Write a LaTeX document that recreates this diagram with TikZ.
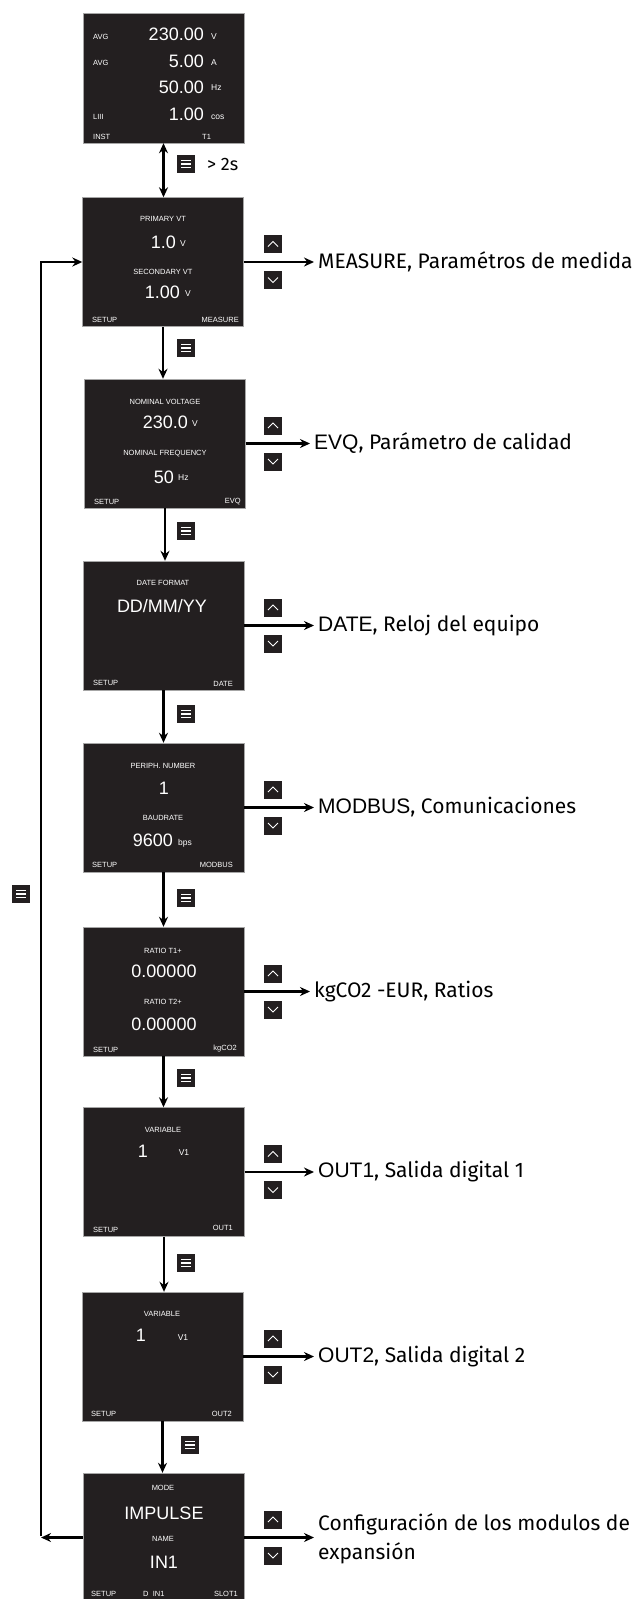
\documentclass[tikz,border=0pt]{standalone}
\usepackage{fontspec}
\setmainfont{Liberation Sans}
\newfontfamily\labfont{Fira Sans}
\usetikzlibrary{arrows.meta}
\definecolor{lcd}{RGB}{35,31,32}
\begin{document}
\begin{tikzpicture}[x=1pt, y=-1pt,
  screen/.style={draw=black!35, fill=lcd, minimum width=161pt, minimum height=129pt, inner sep=0pt},
  tiny/.style={text=white, font=\fontsize{7.5}{8}\selectfont, inner sep=0pt},
  big/.style={text=white, font=\fontsize{18}{20}\selectfont, inner sep=0pt},
  unit/.style={text=white, font=\fontsize{8.5}{9}\selectfont, inner sep=0pt},
  key/.style={fill=lcd, minimum size=18pt, inner sep=0pt},
  upkey/.style={key, path picture={\draw[white, line width=1pt]
    ([xshift=-5pt,yshift=-2.5pt]path picture bounding box.center) -- ++(5pt,5pt) -- ++(5pt,-5pt);}},
  downkey/.style={key, path picture={\draw[white, line width=1pt]
    ([xshift=-5pt,yshift=2.5pt]path picture bounding box.center) -- ++(5pt,-5pt) -- ++(5pt,5pt);}},
  menukey/.style={key, path picture={\foreach \dy in {-3.5,0,3.5}
    \draw[white, line width=1.3pt] ([xshift=-5pt,yshift=\dy pt]path picture bounding box.center) -- ++(10pt,0);}},
  arrow/.style={-{Stealth[length=10pt,width=9pt]}, line width=2.2pt},
  lab/.style={anchor=west, inner xsep=4pt, inner ysep=1pt, font=\labfont\fontsize{21}{29}\selectfont, align=left},
  head/.style={font=\fontsize{21}{24}\selectfont}
]
\useasboundingbox (0,0) rectangle (642,1599);

% screens
\node[screen] (inst) at (163.5,78) [minimum height=130pt] {};
\node[screen] (measure) at (163,262) {};
\node[screen] (evq) at (165,443.5) {};
\node[screen] (date) at (163.5,625.5) {};
\node[screen] (modbus) at (163.5,807.5) {};
\node[screen] (ratio) at (163.5,991.5) {};
\node[screen] (out1) at (164,1172) {};
\node[screen] (out2) at (162.5,1356.5) {};
\node[screen] (slot) at (163.5,1537.5) {};

% INST
\node[tiny, anchor=west] (i1) at (93,37) {AVG};
\node[big, anchor=east] (i2) at (204,34) {230.00};
\node[unit, anchor=west] (i3) at (211,37) {V};
\node[tiny, anchor=west] (i4) at (93,63) {AVG};
\node[big, anchor=east] (i5) at (204,61) {5.00};
\node[unit, anchor=west] (i6) at (211,63) {A};
\node[big, anchor=east] (i7) at (204,87) {50.00};
\node[unit, anchor=west] (i8) at (211,88) {Hz};
\node[tiny, anchor=west] (i9) at (93,117) {LIII};
\node[big, anchor=east] (i10) at (204,114) {1.00};
\node[unit, anchor=west] (i11) at (211,117) {cos};
\node[tiny, anchor=west] (i12) at (93,137) {INST};
\node[tiny, anchor=west] (i13) at (202,137) {T1};

% MEASURE
\node[tiny] (m1) at (163,219) {PRIMARY VT};
\node[big, anchor=east] (m2) at (176,242) {1.0};
\node[unit, anchor=west] (m3) at (180,244) {V};
\node[tiny] (m4) at (163,272) {SECONDARY VT};
\node[big, anchor=east] (m5) at (180,292) {1.00};
\node[unit, anchor=west] (m6) at (185,294) {V};
\node[tiny, anchor=west] (m7) at (92,320) {SETUP};
\node[tiny, anchor=east] (m8) at (239,320) {MEASURE};

% EVQ
\node[tiny] (e1) at (165,402) {NOMINAL VOLTAGE};
\node[big, anchor=east] (e2) at (188,422) {230.0};
\node[unit, anchor=west] (e3) at (192,424) {V};
\node[tiny] (e4) at (165,454) {NOMINAL FREQUENCY};
\node[big, anchor=east] (e5) at (174,477) {50};
\node[unit, anchor=west] (e6) at (178,478) {Hz};
\node[tiny, anchor=west] (e7) at (94,502) {SETUP};
\node[tiny, anchor=east] (e8) at (241,502) {EVQ};

% DATE
\node[tiny] (d1) at (163,583) {DATE FORMAT};
\node[big] (d2) at (162,606) {DD/MM/YY};
\node[tiny, anchor=west] (d3) at (93,683) {SETUP};
\node[tiny, anchor=east] (d4) at (233,684) {DATE};

% MODBUS
\node[tiny] (c1) at (163,766) {PERIPH. NUMBER};
\node[big] (c2) at (164,788) {1};
\node[tiny] (c3) at (163,818) {BAUDRATE};
\node[big, anchor=east] (c4) at (173,840) {9600};
\node[unit, anchor=west] (c5) at (178,843) {bps};
\node[tiny, anchor=west] (c6) at (92,865) {SETUP};
\node[tiny, anchor=east] (c7) at (233,865) {MODBUS};

% kgCO2
\node[tiny] (r1) at (163,951) {RATIO T1+};
\node[big] (r2) at (164,971) {0.00000};
\node[tiny] (r3) at (163,1002) {RATIO T2+};
\node[big] (r4) at (164,1024) {0.00000};
\node[tiny, anchor=west] (r5) at (93,1050) {SETUP};
\node[tiny, anchor=east] (r6) at (237,1049) {kgCO2};

% OUT1
\node[tiny] (o1) at (163,1130) {VARIABLE};
\node[big] (o2) at (143,1151) {1};
\node[unit] (o3) at (184,1153) {V1};
\node[tiny, anchor=west] (o4) at (93,1230) {SETUP};
\node[tiny, anchor=east] (o5) at (233,1228) {OUT1};

% OUT2
\node[tiny] (p1) at (162,1314) {VARIABLE};
\node[big] (p2) at (141,1335) {1};
\node[unit] (p3) at (183,1338) {V1};
\node[tiny, anchor=west] (p4) at (91,1414) {SETUP};
\node[tiny, anchor=east] (p5) at (232,1414) {OUT2};

% SLOT1
\node[tiny] (s1) at (163,1488) {MODE};
\node[big] (s2) at (164,1513) {IMPULSE};
\node[tiny] (s3) at (163,1539) {NAME};
\node[big] (s4) at (164,1562) {IN1};
\node[tiny, anchor=west] (s5) at (91,1594) {SETUP};
\node[tiny, anchor=west] (s6) at (143,1594) {D\ \ IN1};
\node[tiny, anchor=east] (s7) at (238,1594) {SLOT1};

% right side labels
\node[lab] (measurelab) at (314,262) {MEASURE, Paramétros de medida};
\node[lab] (evqlab) at (310,443.5) {{\rmfamily\fontsize{21}{24}\selectfont EVQ}, Parámetro de calidad};
\node[lab] (datelab) at (314,625.5) {{\rmfamily\fontsize{21}{24}\selectfont DATE}, Reloj del equipo};
\node[lab] (modbuslab) at (314,807.5) {{\rmfamily\fontsize{21}{24}\selectfont MODBUS}, Comunicaciones};
\node[lab] (ratiolab) at (310,991.5) {kgCO2 -EUR, Ratios};
\node[lab] (out1lab) at (314,1172) {{\rmfamily\fontsize{21}{24}\selectfont OUT1}, Salida digital 1};
\node[lab] (out2lab) at (314,1356.5) {{\rmfamily\fontsize{21}{24}\selectfont OUT2}, Salida digital 2};
\node[lab] (slotlab) at (314,1539) {Configuración de los modulos de\\expansión};

% keys
\foreach \n/\y in {measure/262,evq/443.5,date/625.5,modbus/807.5,ratio/991.5,out1/1172,out2/1356.5,slot/1537.5}{
  \node[upkey] (\n up) at (273,\y-18) {};
  \node[downkey] (\n down) at (273,\y+18) {};
}
\node[menukey] (hold) at (186,164) {};
\node[lab, font=\labfont\fontsize{18}{20}\selectfont] (holdlab) at (203,164) {> 2s};
\node[menukey] (k1) at (186,348) {};
\node[menukey] (k2) at (186,531) {};
\node[menukey] (k3) at (186,714) {};
\node[menukey] (k4) at (186,898) {};
\node[menukey] (k5) at (186,1078) {};
\node[menukey] (k6) at (186,1263) {};
\node[menukey] (k7) at (190,1445) {};
\node[menukey] (kback) at (21,894) {};

% connectors
\coordinate (loop) at (41,0);
\draw[{Stealth[length=10pt,width=9pt]}-{Stealth[length=10pt,width=9pt]}, line width=2.2pt] (inst.south) -- (inst.south |- measure.north);
\draw[arrow] (measure.south) -- (measure.south |- evq.north);
\draw[arrow] (evq.south) -- (evq.south |- date.north);
\draw[arrow] (date.south) -- (date.south |- modbus.north);
\draw[arrow] (modbus.south) -- (modbus.south |- ratio.north);
\draw[arrow] (ratio.south) -- (ratio.south |- out1.north);
\draw[arrow] (out1.south) -- (out1.south |- out2.north);
\draw[arrow] (out2.south) -- (out2.south |- slot.north);
\foreach \n in {measure,evq,date,modbus,ratio,out1,out2}
  \draw[arrow] (\n.east) -- (\n lab.west);
\draw[arrow] (slot.east) -- (slot.east -| slotlab.west);
\draw[arrow] (slot.west) -- (slot.west -| loop);
\draw[arrow] ([yshift=1.1pt]slot.west -| loop) |- (measure.west);
\end{tikzpicture}
\end{document}
